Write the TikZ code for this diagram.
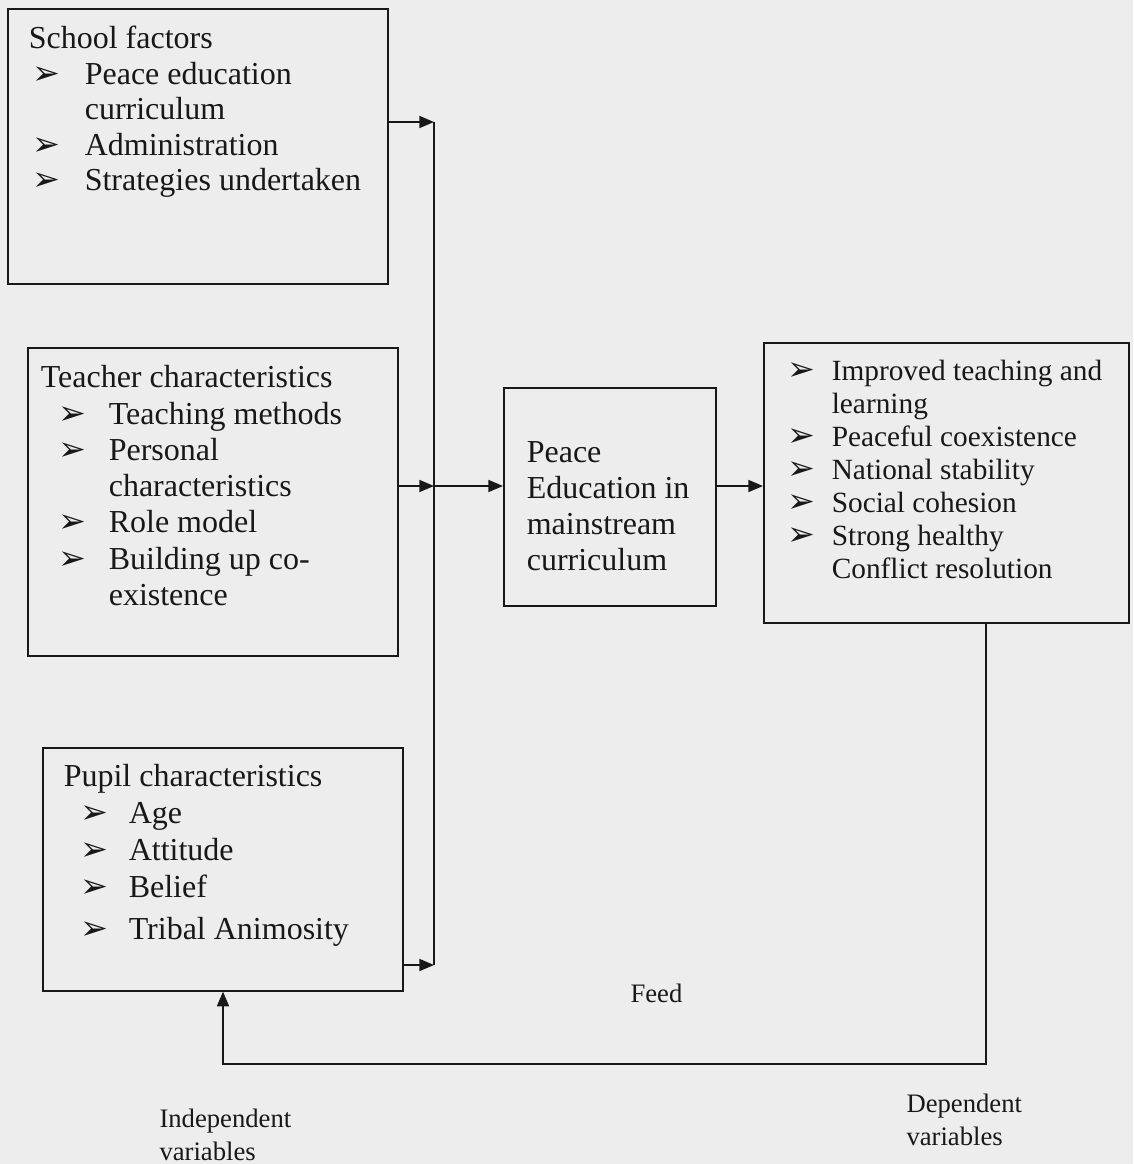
\documentclass[tikz,border=0pt]{standalone}
\usepackage{fontspec}
\setmainfont{Liberation Serif}
\newfontfamily\dingfont{DejaVu Sans}
\usetikzlibrary{arrows.meta}
\tikzset{every picture/.style={line width=0.75pt}}
\definecolor{paper}{RGB}{237,237,237}
\definecolor{ink}{RGB}{24,24,24}
% bullet and list lines inside the boxes
\newcommand{\bmark}{{\dingfont\fontsize{25}{25}\selectfont ➢}}
\newcommand{\bhead}[2]{\par\leftskip=#1\noindent\strut#2}
\newcommand{\bitem}[3]{\par\leftskip=#1\hangindent=#2\hangafter=1\noindent\makebox[#2][l]{\bmark}\strut#3}
\newcommand{\firstline}[1]{\rightskip=0pt plus 1fil\vspace*{\dimexpr#1-0.7\baselineskip\relax}}
\tikzset{
  box/.style={draw=ink, line width=1.2pt, inner sep=0pt, anchor=north west, text=ink},
  flow/.style={draw=ink, line width=1.2pt, -{Triangle[length=11pt,width=9pt]}},
  wire/.style={draw=ink, line width=1.2pt},
  lbl/.style={text=ink, inner sep=0pt, align=left, font=\fontsize{20}{24.75}\selectfont}
}

\begin{document}
\begin{tikzpicture}[x=0.75pt,y=0.75pt,yscale=-1,xscale=1]
%Background
\fill[paper] (0,0) rectangle (1133,1164);
\useasboundingbox (0,0) rectangle (1133,1164);

%Shape: Rectangle [id:school]
\node[box, font=\fontsize{24}{26.6}\selectfont] (school) at (7,8) {\parbox[t][206.25pt][t]{285pt}{\firstline{30pt}%
  \bhead{15.75pt}{School factors}%
  \bitem{18.75pt}{39pt}{Peace education\\curriculum}%
  \bitem{18.75pt}{39pt}{Administration}%
  \bitem{18.75pt}{39pt}{Strategies undertaken}}};
%Shape: Rectangle [id:teacher]
\node[box, font=\fontsize{24}{27.2}\selectfont] (teacher) at (27,347) {\parbox[t][231pt][t]{277.5pt}{\firstline{30pt}%
  \bhead{9.75pt}{Teacher characteristics}%
  \bitem{23.25pt}{37.5pt}{Teaching methods}%
  \bitem{23.25pt}{37.5pt}{Personal\\characteristics}%
  \bitem{23.25pt}{37.5pt}{Role model}%
  \bitem{23.25pt}{37.5pt}{Building up co-\\existence}}};
%Shape: Rectangle [id:pupil]
\node[box, font=\fontsize{24}{27.7}\selectfont] (pupil) at (42,747) {\parbox[t][182.25pt][t]{270pt}{\firstline{29.25pt}%
  \bhead{15.75pt}{Pupil characteristics}%
  \bitem{28.5pt}{36pt}{Age}%
  \bitem{28.5pt}{36pt}{Attitude}%
  \bitem{28.5pt}{36pt}{Belief}\par\vspace{3.75pt}%
  \bitem{28.5pt}{36pt}{Tribal Animosity}}};
%Shape: Rectangle [id:peace]
\node[box, font=\fontsize{24}{27}\selectfont] (peace) at (503,387) {\parbox[t][163.5pt][t]{159pt}{\firstline{56.25pt}%
  \bhead{17.25pt}{Peace\\Education in\\mainstream\\curriculum}}};
%Shape: Rectangle [id:outcome]
\node[box, font=\fontsize{22}{24.75}\selectfont] (outcome) at (763,342) {\parbox[t][210pt][t]{273.75pt}{\firstline{28.5pt}%
  \bitem{18pt}{33pt}{Improved teaching and\\learning}%
  \bitem{18pt}{33pt}{Peaceful coexistence}%
  \bitem{18pt}{33pt}{National stability}%
  \bitem{18pt}{33pt}{Social cohesion}%
  \bitem{18pt}{33pt}{Strong healthy\\Conflict resolution}}};

%Straight Lines [id:bus]
\coordinate (busA) at (434,122);
\coordinate (busB) at (434,486);
\coordinate (busC) at (434,965);
\draw[wire] (busA) -- (busC);
\draw[flow] (school.east |- busA) -- (busA);
\draw[flow] (teacher.east |- busB) -- (busB);
\draw[flow] (pupil.east |- busC) -- (busC);
\draw[flow] (busB) -- (peace.west |- busB);
\draw[flow] (peace.east |- busB) -- (outcome.west |- busB);
%Straight Lines [id:feedback]
\coordinate (fbR) at (986,1064);
\coordinate (fbL) at (223,1064);
\draw[flow] (outcome.south -| fbR) -- (fbR) -- (fbL) -- (pupil.south -| fbL);

% Text Node
\node[lbl, anchor=base west] (feed) at (630,1002) {Feed};
% Text Node
\node[lbl, anchor=base west] (indep) at (159,1160) {Independent\\variables};
% Text Node
\node[lbl, anchor=base west] (dep) at (906,1145) {Dependent\\variables};
\end{tikzpicture}
\end{document}
